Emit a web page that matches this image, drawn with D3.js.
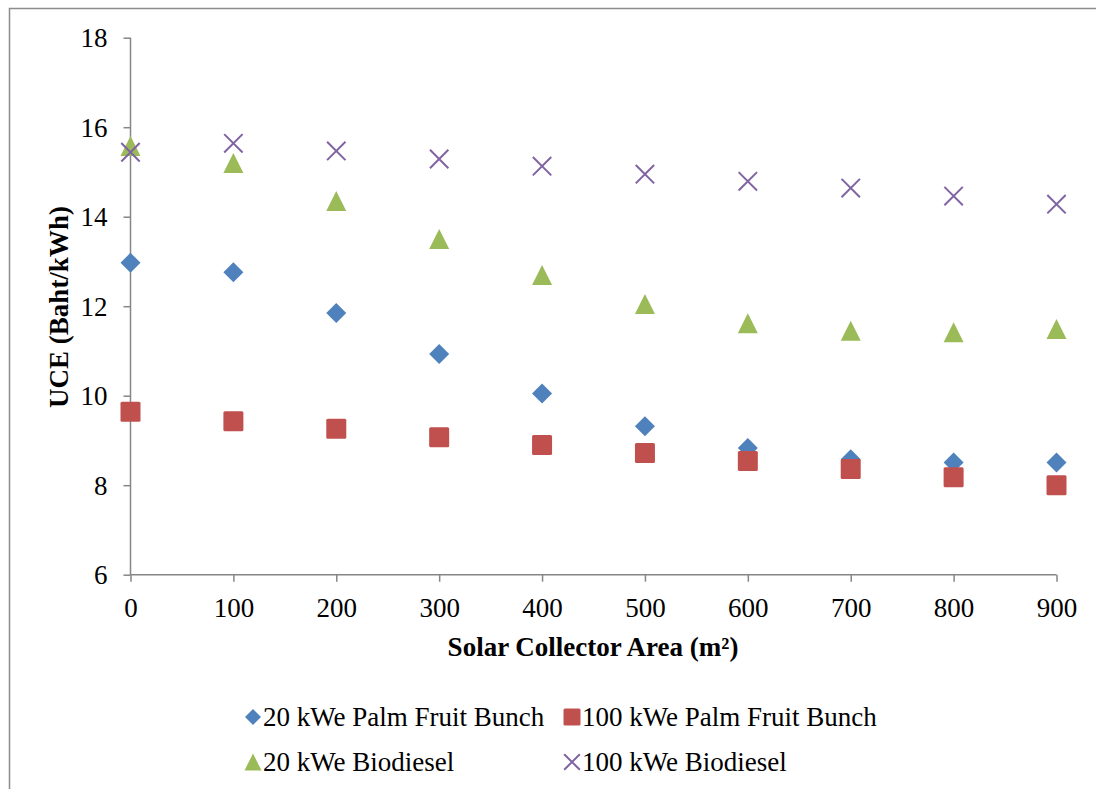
<!DOCTYPE html>
<html>
<head>
<meta charset="utf-8">
<script src="https://cdn.jsdelivr.net/npm/d3@7"></script>
<style>
  html, body { margin: 0; padding: 0; background: #fff; overflow: hidden; }
  svg text { font-family: "Liberation Serif", "Times New Roman", Tinos, "DejaVu Serif", serif !important; }
</style>
</head>
<body>
<svg id="chart" width="1096" height="789"></svg>
<script>
// Solar collector area (m²)
const areas = [0, 100, 200, 300, 400, 500, 600, 700, 800, 900];

// Unit cost of electricity (Baht/kWh) for each configuration
const pfb20 = [12.97, 12.76, 11.85, 10.93, 10.05, 9.32, 8.83, 8.58, 8.51, 8.51];
const pfb100 = [9.64, 9.43, 9.26, 9.07, 8.90, 8.72, 8.54, 8.36, 8.18, 8.00];
const bio20 = [15.58, 15.20, 14.35, 13.50, 12.70, 12.05, 11.62, 11.45, 11.42, 11.49];
const bio100 = [15.44, 15.64, 15.47, 15.29, 15.13, 14.95, 14.79, 14.64, 14.46, 14.28];

const seriesNames = ["20 kWe Palm Fruit Bunch", "100 kWe Palm Fruit Bunch", "20 kWe Biodiesel", "100 kWe Biodiesel"];
const yTicks = [6, 8, 10, 12, 14, 16, 18];
const xTicks = [0, 100, 200, 300, 400, 500, 600, 700, 800, 900];

const series = [
  { name: seriesNames[0], values: pfb20, shape: "diamond", color: "#4F81BD" },
  { name: seriesNames[1], values: pfb100, shape: "square", color: "#C0504D" },
  { name: seriesNames[2], values: bio20, shape: "triangle", color: "#9BBB59" },
  { name: seriesNames[3], values: bio100, shape: "cross", color: "#8064A2" }
];

const FONT = 27;
const svg = d3.select("#chart");

// outer chart frame (only top and left edges fall inside the page)
svg.append("rect")
  .attr("x", 9.5).attr("y", 8.5)
  .attr("width", 1200).attr("height", 900)
  .attr("fill", "none").attr("stroke", "#8c8c8c").attr("stroke-width", 1.5);

const x = d3.scaleLinear().domain([0, 900]).range([130.5, 1056.5]);
const y = d3.scaleLinear().domain([6, 18]).range([574.7, 37.7]);

const axisColor = "#868686";

// x axis
const gx = svg.append("g").attr("transform", `translate(0,${y(6)})`)
  .call(d3.axisBottom(x).tickValues(xTicks).tickSize(7).tickSizeOuter(0));
gx.attr("font-family", null).attr("font-size", null);
gx.select(".domain").attr("stroke", axisColor).attr("stroke-width", 1.5)
  .attr("d", `M${x(0)},0H${x(900)}`);
gx.selectAll(".tick line").attr("stroke", axisColor).attr("stroke-width", 1.5);
gx.selectAll(".tick text").attr("font-size", FONT).attr("fill", "#000")
  .attr("dy", null).attr("y", 42);

// y axis
const gy = svg.append("g").attr("transform", `translate(${x(0)},0)`)
  .call(d3.axisLeft(y).tickValues(yTicks).tickSize(7).tickSizeOuter(0).tickPadding(16));
gy.attr("font-family", null).attr("font-size", null);
gy.select(".domain").attr("stroke", axisColor).attr("stroke-width", 1.5)
  .attr("d", `M0,${y(18)}V${y(6)}`);
gy.selectAll(".tick line").attr("stroke", axisColor).attr("stroke-width", 1.5);
gy.selectAll(".tick text").attr("font-size", FONT).attr("fill", "#000")
  .attr("dy", null).attr("y", 8.8);

// axis titles
svg.append("text")
  .attr("x", 593).attr("y", 656)
  .attr("text-anchor", "middle")
  .attr("font-size", FONT).attr("font-weight", "bold")
  .text("Solar Collector Area (m²)");

svg.append("text")
  .attr("transform", "translate(68,307) rotate(-90)")
  .attr("text-anchor", "middle")
  .attr("font-size", FONT).attr("font-weight", "bold")
  .text("UCE (Baht/kWh)");

// marker drawing
function drawMarker(g, shape, color, cx, cy, s) {
  const h = s / 2;
  if (shape === "diamond") {
    g.append("path")
      .attr("d", `M${cx},${cy - h}L${cx + h},${cy}L${cx},${cy + h}L${cx - h},${cy}Z`)
      .attr("fill", color);
  } else if (shape === "square") {
    g.append("rect")
      .attr("x", cx - h).attr("y", cy - h).attr("width", s).attr("height", s)
      .attr("rx", 1.5).attr("fill", color);
  } else if (shape === "triangle") {
    g.append("path")
      .attr("d", `M${cx},${cy - h}L${cx + h},${cy + h}L${cx - h},${cy + h}Z`)
      .attr("fill", color);
  } else {
    const k = h * 0.92;
    g.append("path")
      .attr("d", `M${cx - k},${cy - k}L${cx + k},${cy + k}M${cx + k},${cy - k}L${cx - k},${cy + k}`)
      .attr("stroke", color).attr("stroke-width", 2).attr("fill", "none");
  }
}

// data points
const plot = svg.append("g");
series.forEach(sr => {
  const g = plot.append("g").attr("class", "series");
  sr.values.forEach((v, i) => drawMarker(g, sr.shape, sr.color, x(areas[i]), y(v), 20));
});

// legend
const legendPos = [
  { mx: 253, ty: 717 },
  { mx: 572, ty: 717 },
  { mx: 253, ty: 762 },
  { mx: 572, ty: 762 }
];
series.forEach((sr, i) => {
  const p = legendPos[i];
  const g = svg.append("g");
  const ms = sr.shape === "diamond" ? 16 : 17;
  drawMarker(g, sr.shape, sr.color, p.mx, p.ty, ms);
  g.append("text")
    .attr("x", p.mx + 10).attr("y", p.ty + 9)
    .attr("font-size", FONT).attr("fill", "#000")
    .text(sr.name);
});
</script>
</body>
</html>
